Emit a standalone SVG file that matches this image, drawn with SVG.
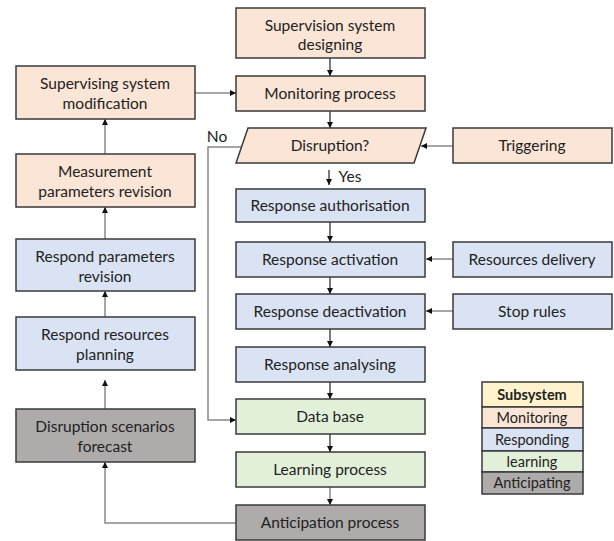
<svg xmlns="http://www.w3.org/2000/svg" width="614" height="541" viewBox="0 0 614 541">
<defs>
<marker id="ah" viewBox="0 0 10 10" refX="10" refY="5" markerWidth="6" markerHeight="6" orient="auto" markerUnits="userSpaceOnUse"><path d="M0,0 L10,5 L0,10 z" fill="#111"/></marker>
<style>
.box{stroke:#3a3a3a;stroke-width:1.5}
.mon{fill:#FBE5D6}
.res{fill:#DAE3F3}
.lea{fill:#E2F0D9}
.ant{fill:#AFABAB}
.sub{fill:#FFF2CC}
text{font-family:Lato,"Open Sans","Liberation Sans",sans-serif;font-size:15.5px;fill:#222;text-anchor:middle}
.lg{font-size:14.5px}
.c{fill:none;stroke:#222;stroke-width:1.2;marker-end:url(#ah)}
.g{fill:none;stroke:#888;stroke-width:1.5;marker-end:url(#ah)}
.gn{fill:none;stroke:#888;stroke-width:1.5}
</style>
</defs>
<rect width="614" height="541" fill="#fff"/>
<g id="connectors">
<path class="c" d="M330,58 V76"/>
<path class="c" d="M330,111 V128"/>
<path class="c" d="M329,170 V185"/>
<path class="c" d="M330,222 V242"/>
<path class="c" d="M330,277 V294"/>
<path class="c" d="M330,329 V347"/>
<path class="c" d="M330,382 V399"/>
<path class="c" d="M330,434 V452"/>
<path class="g" d="M330,487 V505"/>
<path class="g" d="M453,146 H421"/>
<path class="g" d="M453,259 H426"/>
<path class="g" d="M453,311 H426"/>
<path class="g" d="M195,93 H236"/>
<path class="g" d="M241,147 H208 V420 H236"/>
<path class="g" d="M236,523 H105 V462"/>
<path class="g" d="M105,409 V380"/>
<path class="g" d="M105,317 V291"/>
<path class="g" d="M105,239 V207"/>
<path class="g" d="M105,154 V119"/>
<text x="217" y="142">No</text>
<text x="350" y="182">Yes</text>
</g>
<g id="n-designing"><rect class="box mon" x="236" y="8" width="189" height="50"/><text x="330" y="31">Supervision system</text><text x="330" y="50">designing</text></g>
<g id="n-monitoring"><rect class="box mon" x="236" y="76" width="189" height="35"/><text x="330" y="99">Monitoring process</text></g>
<g id="n-disruption"><path class="box mon" d="M248,128 H426 L414,163 H236 Z"/><text x="330" y="151">Disruption?</text></g>
<g id="n-triggering"><rect class="box mon" x="453" y="128" width="159" height="35"/><text x="532" y="151">Triggering</text></g>
<g id="n-authorisation"><rect class="box res" x="236" y="189" width="189" height="33"/><text x="330" y="211">Response authorisation</text></g>
<g id="n-activation"><rect class="box res" x="236" y="242" width="189" height="35"/><text x="330" y="265">Response activation</text></g>
<g id="n-resources"><rect class="box res" x="453" y="242" width="159" height="35"/><text x="532" y="265">Resources delivery</text></g>
<g id="n-deactivation"><rect class="box res" x="236" y="294" width="189" height="35"/><text x="330" y="317">Response deactivation</text></g>
<g id="n-stop"><rect class="box res" x="453" y="294" width="159" height="35"/><text x="532" y="317">Stop rules</text></g>
<g id="n-analysing"><rect class="box res" x="236" y="347" width="189" height="35"/><text x="330" y="370">Response analysing</text></g>
<g id="n-database"><rect class="box lea" x="236" y="399" width="189" height="35"/><text x="330" y="422">Data base</text></g>
<g id="n-learning"><rect class="box lea" x="236" y="452" width="189" height="35"/><text x="330" y="475">Learning process</text></g>
<g id="n-anticipation"><rect class="box ant" x="236" y="505" width="189" height="35"/><text x="330" y="528">Anticipation process</text></g>
<g id="n-modification"><rect class="box mon" x="16" y="66" width="179" height="53"/><text x="105" y="89">Supervising system</text><text x="105" y="109">modification</text></g>
<g id="n-measurement"><rect class="box mon" x="16" y="154" width="179" height="53"/><text x="105" y="177">Measurement</text><text x="105" y="197">parameters revision</text></g>
<g id="n-respparams"><rect class="box res" x="16" y="239" width="179" height="52"/><text x="105" y="262">Respond parameters</text><text x="105" y="282">revision</text></g>
<g id="n-respplanning"><rect class="box res" x="16" y="317" width="179" height="53"/><text x="105" y="340">Respond resources</text><text x="105" y="360">planning</text></g>
<g id="n-forecast"><rect class="box ant" x="16" y="409" width="179" height="53"/><text x="105" y="432">Disruption scenarios</text><text x="105" y="452">forecast</text></g>
<g id="legend">
<rect class="box sub" x="482" y="382" width="101" height="25"/><text class="lg" x="532" y="400" font-weight="bold">Subsystem</text>
<rect class="box mon" x="482" y="407" width="101" height="21"/><text class="lg" x="532" y="423">Monitoring</text>
<rect class="box res" x="482" y="428" width="101" height="23"/><text class="lg" x="532" y="445">Responding</text>
<rect class="box lea" x="482" y="451" width="101" height="21"/><text class="lg" x="532" y="467">learning</text>
<rect class="box ant" x="482" y="472" width="101" height="22"/><text class="lg" x="532" y="488">Anticipating</text>
</g>
</svg>
